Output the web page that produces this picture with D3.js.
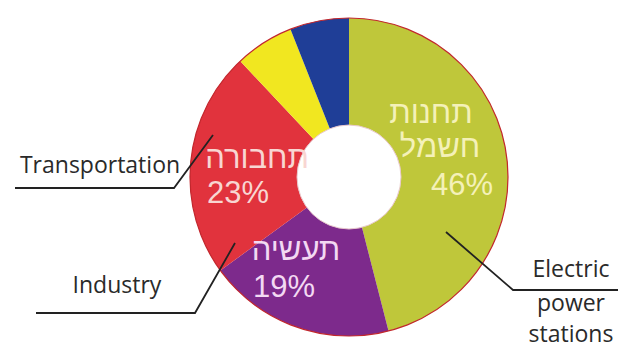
<!DOCTYPE html>
<html>
<head>
<meta charset="utf-8">
<script src="https://cdn.jsdelivr.net/npm/d3@7"></script>
<style>
  html, body { margin: 0; padding: 0; background: #fff; }
  svg { display: block; }
</style>
</head>
<body>
<svg id="chart" width="618" height="349"></svg>
<script>
// Energy use by sector (percent), starting at 12 o'clock, clockwise
const sectors = ["Electric power stations", "Industry", "Transportation", "Other A", "Other B"];
const shares = [46, 19, 23, 6, 6];
const colors = ["#bfc73a", "#7d2a8c", "#e1333d", "#f1e720", "#1f3e97"];
const innerLines = [["תחנות", "חשמל", "46%"], ["תעשיה", "19%"], ["תחבורה", "23%"], [], []];
const innerColors = ["#f4f1b8", "#f3d9f3", "#f8d6d2", "#fff", "#fff"];
const calloutText = [["Electric", "power", "stations"], ["Industry"], ["Transportation"]];

const svg = d3.select("#chart");
const cx = 349, cy = 177, rOuter = 159, rInner = 52;

const pie = d3.pie().value(d => d).sort(null);
const arcs = pie(shares);
const arc = d3.arc().innerRadius(rInner).outerRadius(rOuter);

const g = svg.append("g").attr("transform", `translate(${cx},${cy})`);

g.selectAll("path.slice")
  .data(arcs)
  .join("path")
  .attr("class", "slice")
  .attr("d", arc)
  .attr("fill", (d, i) => colors[i]);

// thin rim around the ring
g.append("circle").attr("r", rOuter).attr("fill", "none")
  .attr("stroke", "#c2272d").attr("stroke-width", 1.2);
g.append("circle").attr("r", rInner).attr("fill", "none")
  .attr("stroke", "#e8c8cc").attr("stroke-width", 1);

// in-slice Hebrew labels: per-line centre x and baseline y, relative to the ring centre
const innerPos = [
  [[82, -54], [91, -20], [113, 18]],
  [[-53, 83], [-65, 120]],
  [[-92, -9], [-111, 26]]
];
innerPos.forEach((lines, i) => {
  lines.forEach((p, k) => {
    g.append("text")
      .attr("x", p[0]).attr("y", p[1])
      .attr("text-anchor", "middle")
      .attr("font-family", "'Liberation Sans', Arial, sans-serif")
      .attr("font-size", 31)
      .attr("fill", innerColors[i])
      .text(innerLines[i][k]);
  });
});

// callout leader lines
const leaders = [
  [[446, 232], [513, 290], [618, 290]],
  [[235, 243], [195, 313], [36, 313]],
  [[213, 135], [174, 188], [15, 188]]
];
const line = d3.line();
svg.selectAll("path.leader")
  .data(leaders)
  .join("path")
  .attr("class", "leader")
  .attr("d", line)
  .attr("fill", "none")
  .attr("stroke", "#222")
  .attr("stroke-width", 1.8);

// callout labels: centre x and one baseline per line
const calloutPos = [[571, [277, 311, 342]], [117, [293]], [100, [173]]];
const font = "'Open Sans', 'Liberation Sans', sans-serif";
calloutText.forEach((lines, i) => {
  const [x, ys] = calloutPos[i];
  const t = svg.append("text")
    .attr("text-anchor", "middle")
    .attr("font-family", font)
    .attr("font-size", 23)
    .attr("fill", "#2a2a2a");
  lines.forEach((s, k) => {
    t.append("tspan").attr("x", x).attr("y", ys[k]).text(s);
  });
});
</script>
</body>
</html>
